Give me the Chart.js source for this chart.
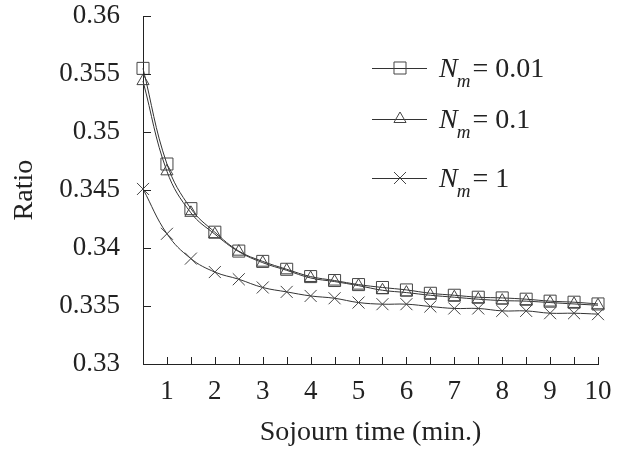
<!DOCTYPE html>
<html lang="en">
<head>
<meta charset="UTF-8" />
<title>Ratio vs sojourn time</title>
<style>
  html, body { margin: 0; padding: 0; background: #fff; }
  #wrap { width: 619px; height: 450px; }
</style>
</head>
<body>
<div id="wrap"><canvas id="myChart"></canvas></div>

<script src="https://cdn.jsdelivr.net/npm/chart.js"></script>
<script>
// data
const times = [0.5, 1, 1.5, 2, 2.5, 3, 3.5, 4, 4.5, 5, 5.5, 6, 6.5, 7, 7.5, 8, 8.5, 9, 9.5, 10];
const nm001 = [0.3555, 0.34725, 0.3434, 0.34137, 0.33974, 0.33885, 0.33817, 0.33754, 0.3372, 0.33685,
               0.3366, 0.33639, 0.3361, 0.33593, 0.33576, 0.3357, 0.33559, 0.33542, 0.33533, 0.33518];
const nm01  = [0.3544, 0.34662, 0.34304, 0.3412, 0.33969, 0.33874, 0.33808, 0.33742, 0.33711, 0.33676,
               0.33636, 0.33616, 0.33593, 0.33576, 0.33559, 0.33547, 0.33542, 0.3353, 0.33518, 0.33507];
const nm1   = [0.3451, 0.34123, 0.33909, 0.33793, 0.33731, 0.3366, 0.33622, 0.33587, 0.33567, 0.3353,
               0.33516, 0.33516, 0.33496, 0.33479, 0.33479, 0.33458, 0.33458, 0.33438, 0.33438, 0.3343];
const nmValues = ['0.01', '0.1', '1'];
const yMin = 0.33, yMax = 0.36, yStep = 0.005;
const xMin = 0.5, xMax = 10, xStep = 0.5;

const FONT = '"Liberation Serif", "Times New Roman", serif';
const INK = '#222';

function pts(arr) {
    return times.map((t, i) => ({ x: t, y: arr[i] }));
}

function ds(arr, style, r) {
    return {
        data: pts(arr),
        borderColor: '#333',
        borderWidth: 1,
        tension: 0.4,
        pointStyle: style,
        pointRadius: r,
        pointBorderColor: '#444',
        pointBackgroundColor: 'rgba(0,0,0,0)',
        pointBorderWidth: 1,
        clip: false
    };
}

// inward tick marks on both axes
const tickPlugin = {
    id: 'inTicks',
    afterDraw(chart) {
        const ctx = chart.ctx;
        const xs = chart.scales.x, ys = chart.scales.y;
        const a = chart.chartArea;
        ctx.save();
        ctx.strokeStyle = INK;
        ctx.lineWidth = 1;
        ctx.beginPath();
        ys.ticks.forEach(t => {
            const py = Math.round(ys.getPixelForValue(t.value)) + 0.5;
            ctx.moveTo(a.left, py);
            ctx.lineTo(a.left + 8, py);
        });
        xs.ticks.forEach(t => {
            if (t.value <= xMin) return;
            const px = Math.round(xs.getPixelForValue(t.value)) + 0.5;
            ctx.moveTo(px, a.bottom);
            ctx.lineTo(px, a.bottom - 7);
        });
        ctx.stroke();
        ctx.restore();
    }
};

// legend with italic N and subscript m
const legendPlugin = {
    id: 'nmLegend',
    afterDraw(chart) {
        const ctx = chart.ctx;
        const rows = [68, 119, 178];
        ctx.save();
        chart.data.datasets.forEach((d, i) => {
            const y = rows[i];
            ctx.strokeStyle = '#333';
            ctx.lineWidth = 1;
            ctx.beginPath();
            ctx.moveTo(372, y + 0.5);
            ctx.lineTo(427, y + 0.5);
            ctx.stroke();
            ctx.strokeStyle = '#444';
            ctx.fillStyle = 'rgba(0,0,0,0)';
            Chart.helpers.drawPoint(ctx, { pointStyle: d.pointStyle, radius: d.pointRadius, borderWidth: 1 }, 400, y);

            ctx.fillStyle = INK;
            ctx.textBaseline = 'alphabetic';
            ctx.textAlign = 'left';
            const base = y + 9;
            ctx.font = 'italic 28px ' + FONT;
            ctx.fillText('N', 439, base);
            const nw = ctx.measureText('N').width;
            ctx.font = 'italic 19px ' + FONT;
            ctx.fillText('m', 439 + nw - 1, base + 10);
            const mw = ctx.measureText('m').width;
            ctx.font = '28px ' + FONT;
            ctx.fillText('= ' + nmValues[i], 439 + nw + mw + 1, base);
        });
        ctx.restore();
    }
};

const config = {
    type: 'line',
    data: {
        datasets: [
            ds(nm001, 'rect', 8.5),
            ds(nm01, 'triangle', 7),
            ds(nm1, 'crossRot', 8.5)
        ]
    },
    options: {
        responsive: true,
        maintainAspectRatio: false,
        animation: false,
        layout: { padding: { left: 0, right: 21, top: 16, bottom: 0 } },
        plugins: { legend: { display: false }, tooltip: { enabled: false } },
        scales: {
            x: {
                type: 'linear',
                min: xMin,
                max: xMax,
                grid: { display: false, drawTicks: true, tickLength: 12 },
                border: { display: true, color: INK, width: 1 },
                ticks: {
                    stepSize: xStep,
                    autoSkip: false,
                    maxRotation: 0,
                    padding: 0,
                    color: INK,
                    font: { family: FONT, size: 27 },
                    callback: v => Number.isInteger(v) ? String(v) : ''
                },
                title: {
                    display: true,
                    text: 'Sojourn time (min.)',
                    color: INK,
                    font: { family: FONT, size: 28 },
                    padding: { top: 0, bottom: 1 }
                },
                afterFit(s) { s.height = 86; }
            },
            y: {
                min: yMin,
                max: yMax,
                grid: { display: false, drawTicks: true, tickLength: 23 },
                border: { display: true, color: INK, width: 1 },
                ticks: {
                    stepSize: yStep,
                    padding: 0,
                    color: INK,
                    font: { family: FONT, size: 27 },
                    callback: v => String(+v.toFixed(3))
                },
                title: {
                    display: true,
                    text: 'Ratio',
                    color: INK,
                    font: { family: FONT, size: 28 },
                    padding: { top: 8, bottom: 0 }
                },
                afterFit(s) { s.width = 143; }
            }
        }
    },
    plugins: [tickPlugin, legendPlugin]
};

const myChart = new Chart(document.getElementById('myChart'), config);
</script>
</body>
</html>
